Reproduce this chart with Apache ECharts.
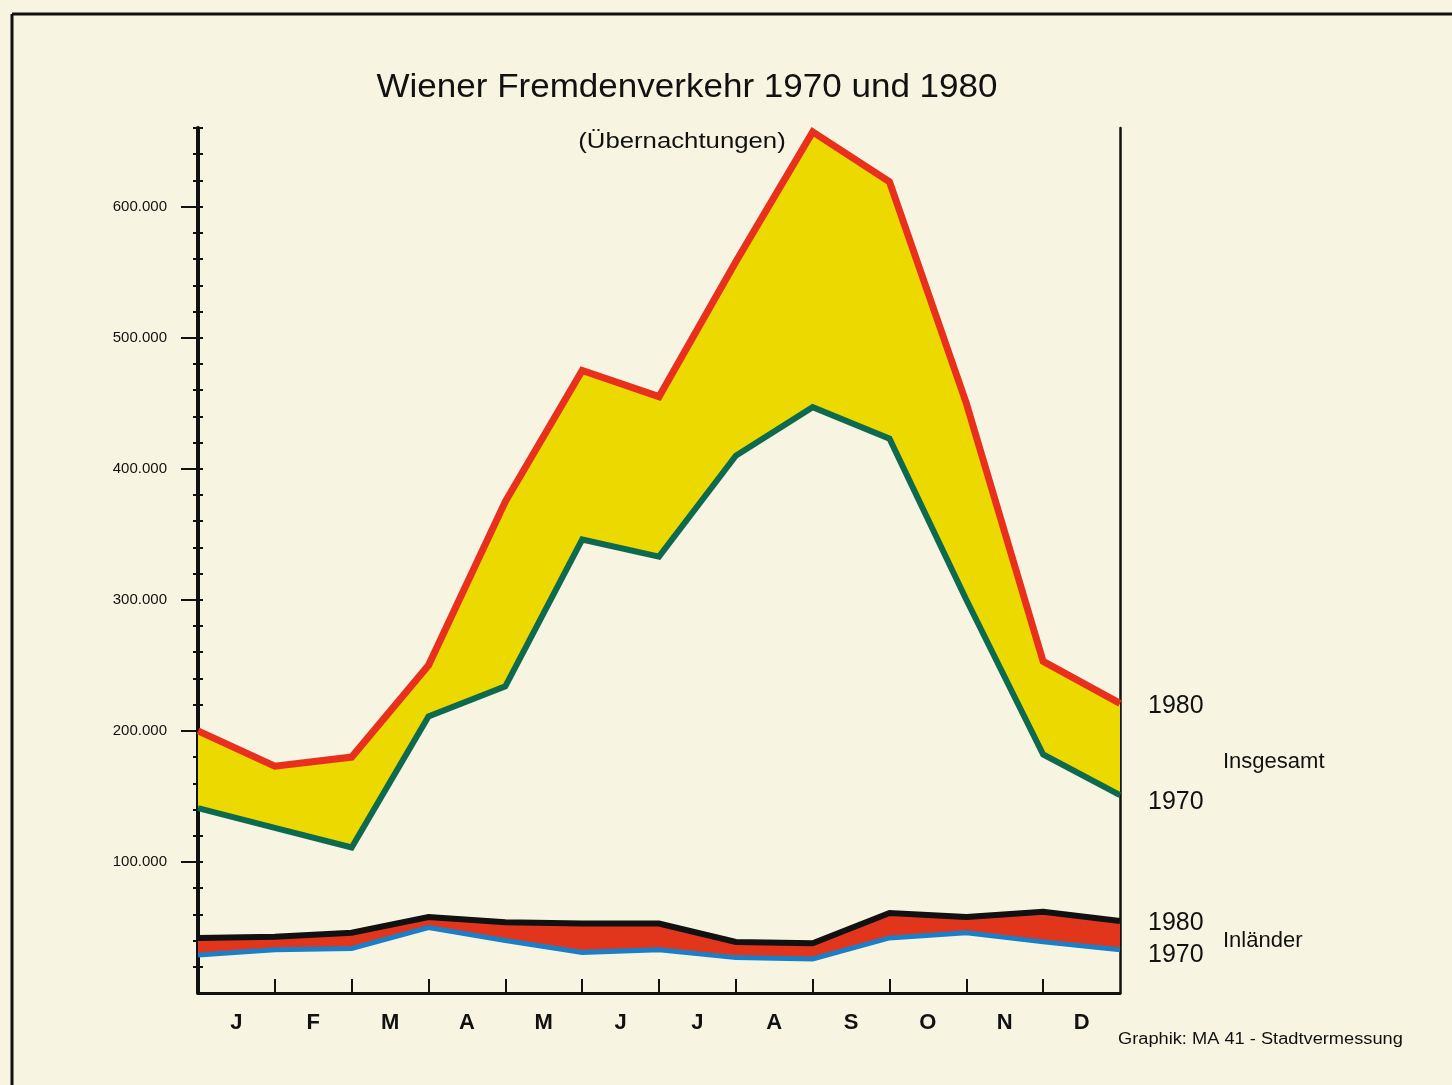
<!DOCTYPE html>
<html>
<head>
<meta charset="utf-8">
<script src="https://cdn.jsdelivr.net/npm/echarts@6/dist/echarts.min.js"></script>
<style>
html,body{margin:0;padding:0;background:#f7f5e1;}
#chart{width:1452px;height:1085px;}
</style>
</head>
<body>
<div id="chart"></div>
<script>
// ---- data ----
var months = ['J','F','M','A','M','J','J','A','S','O','N','D'];
var pointCategories = ['0','1','2','3','4','5','6','7','8','9','10','11','12'];
var insgesamt1980 = [200000,173000,180000,250000,375000,475000,455000,558000,657000,619000,450000,253000,221000];
var insgesamt1970 = [141000,126000,111000,211000,234000,346000,333000,410000,447000,423000,300000,182000,151000];
var inland1980 = [42000,43000,46000,58000,54000,53000,53000,39000,38000,61000,58000,62000,55000];
var inland1970 = [29000,33000,34000,50000,40000,31000,33000,27000,26000,42000,46000,39000,33000];
var yMajorTicks = [100000,200000,300000,400000,500000,600000];
var yMinorTicks = [];
for (var v = 20000; v <= 660000; v += 20000) yMinorTicks.push(v);
var monthLabelPos = [0.5,1.5,2.5,3.5,4.5,5.5,6.5,7.5,8.5,9.5,10.5,11.5];
var xTickPos = [1,2,3,4,5,6,7,8,9,10,11];

function diff(a,b){ return a.map(function(x,i){ return x - b[i]; }); }

var FONT = '"Liberation Sans",Arial,sans-serif';
var chart = echarts.init(document.getElementById('chart'), null, {renderer:'canvas'});

var option = {
  backgroundColor: '#f7f5e1',
  animation: false,
  grid: {left:198, right:332, top:128, bottom:92, containLabel:false},
  xAxis: [{
    type:'value', min:0, max:12, interval:1, position:'bottom',
    axisLine:{show:true, lineStyle:{color:'#111', width:3}},
    axisTick:{show:true, inside:true, length:14, lineStyle:{color:'#111', width:2}, customValues:xTickPos},
    axisLabel:{show:true, customValues: monthLabelPos, margin:19, color:'#111',
      fontFamily:FONT, fontSize:22, fontWeight:'bold',
      formatter:function(v){ return months[Math.floor(v)]; }},
    splitLine:{show:false}
  },{
    type:'category', data:pointCategories, boundaryGap:false, show:false, position:'bottom'
  }],
  yAxis: [{
    type:'value', min:0, max:660000, position:'left',
    axisLine:{show:true, lineStyle:{color:'#111', width:4}},
    axisTick:{show:true, inside:false, length:17, lineStyle:{color:'#111', width:2}, customValues: yMajorTicks},
    axisLabel:{show:true, customValues: yMajorTicks, margin:31, color:'#111', fontFamily:FONT, fontSize:15,
      formatter:function(v){ return (v/1000) + '.000'; }},
    splitLine:{show:false}
  },{
    type:'value', min:0, max:660000, position:'left',
    axisLine:{show:false},
    axisTick:{show:true, inside:false, length:5, lineStyle:{color:'#111', width:2}, customValues: yMinorTicks},
    axisLabel:{show:false}, splitLine:{show:false}
  },{
    type:'value', min:0, max:660000, position:'left',
    axisLine:{show:false},
    axisTick:{show:true, inside:true, length:5, lineStyle:{color:'#111', width:2}, customValues: yMinorTicks},
    axisLabel:{show:false}, splitLine:{show:false}
  },{
    type:'value', min:0, max:660000, position:'right',
    axisLine:{show:true, lineStyle:{color:'#111', width:2.5}},
    axisTick:{show:false}, axisLabel:{show:false}, splitLine:{show:false}
  }],
  series: [
    {type:'line', name:'base1970', xAxisIndex:1, stack:'tot', data:insgesamt1970, showSymbol:false, symbol:'none',
      lineStyle:{width:0, opacity:0}, z:1, silent:true},
    {type:'line', name:'fillTot', xAxisIndex:1, stack:'tot', data:diff(insgesamt1980, insgesamt1970), showSymbol:false, symbol:'none',
      lineStyle:{width:0, opacity:0}, areaStyle:{color:'#ebd900', opacity:1}, z:1, silent:true},
    {type:'line', name:'baseInl', xAxisIndex:1, stack:'inl', data:inland1970, showSymbol:false, symbol:'none',
      lineStyle:{width:0, opacity:0}, z:1, silent:true},
    {type:'line', name:'fillInl', xAxisIndex:1, stack:'inl', data:diff(inland1980, inland1970), showSymbol:false, symbol:'none',
      lineStyle:{width:0, opacity:0}, areaStyle:{color:'#e2361c', opacity:1}, z:1, silent:true},
    {type:'line', name:'Insgesamt 1970', xAxisIndex:1, data:insgesamt1970, showSymbol:false, symbol:'none',
      lineStyle:{color:'#0d6a4e', width:6, join:'miter'}, z:3},
    {type:'line', name:'Insgesamt 1980', xAxisIndex:1, data:insgesamt1980, showSymbol:false, symbol:'none',
      lineStyle:{color:'#e8301c', width:7, join:'miter'}, z:3},
    {type:'line', name:'Inländer 1970', xAxisIndex:1, data:inland1970, showSymbol:false, symbol:'none',
      lineStyle:{color:'#1c7ec6', width:5, join:'miter'}, z:3},
    {type:'line', name:'Inländer 1980', xAxisIndex:1, data:inland1980, showSymbol:false, symbol:'none',
      lineStyle:{color:'#111', width:6, join:'miter'}, z:3}
  ],
  graphic: [
    {type:'line', shape:{x1:12, y1:14, x2:1452, y2:14}, style:{stroke:'#111', lineWidth:3}, silent:true},
    {type:'line', shape:{x1:12, y1:14, x2:12, y2:1085}, style:{stroke:'#111', lineWidth:3}, silent:true},
    {type:'text', x:687, y:88, style:{text:'Wiener Fremdenverkehr 1970 und 1980', fill:'#111',
      font:'34px '+FONT, textAlign:'center', textVerticalAlign:'middle'}, scaleX:1.03},
    {type:'text', x:682, y:142, scaleX:1.17, style:{text:'(Übernachtungen)', fill:'#111',
      font:'22px '+FONT, textAlign:'center', textVerticalAlign:'middle'}},
    {type:'text', x:1148, y:706, style:{text:'1980', fill:'#111', font:'25px '+FONT, textAlign:'left', textVerticalAlign:'middle'}},
    {type:'text', x:1223, y:762, style:{text:'Insgesamt', fill:'#111', font:'22px '+FONT, textAlign:'left', textVerticalAlign:'middle'}},
    {type:'text', x:1148, y:802, style:{text:'1970', fill:'#111', font:'25px '+FONT, textAlign:'left', textVerticalAlign:'middle'}},
    {type:'text', x:1148, y:923, style:{text:'1980', fill:'#111', font:'25px '+FONT, textAlign:'left', textVerticalAlign:'middle'}},
    {type:'text', x:1223, y:941, style:{text:'Inländer', fill:'#111', font:'22px '+FONT, textAlign:'left', textVerticalAlign:'middle'}},
    {type:'text', x:1148, y:955, style:{text:'1970', fill:'#111', font:'25px '+FONT, textAlign:'left', textVerticalAlign:'middle'}},
    {type:'text', x:1118, y:1040, scaleX:1.14, style:{text:'Graphik: MA 41 - Stadtvermessung', fill:'#111', font:'16px '+FONT, textAlign:'left', textVerticalAlign:'middle'}}
  ]
};
chart.setOption(option);
</script>
</body>
</html>
